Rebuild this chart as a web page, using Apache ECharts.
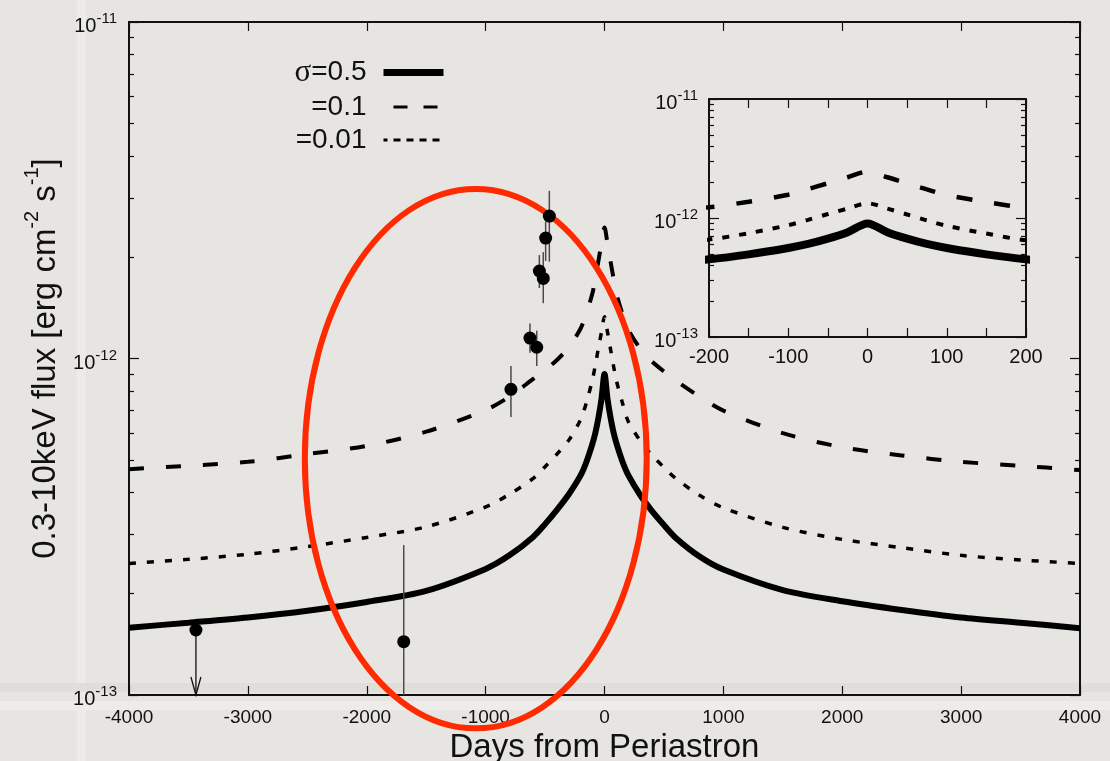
<!DOCTYPE html>
<html><head><meta charset="utf-8">
<script src="https://cdn.jsdelivr.net/npm/echarts@6/dist/echarts.min.js"></script>
<style>html,body{margin:0;padding:0;background:#e6e5e2;}#c{width:1110px;height:761px;}</style>
</head><body><div id="c"></div>
<script>
// ---------- data ----------
const days = [-4000,-3500,-3000,-2500,-2000,-1500,-1000,-800,-600,-500,-400,-300,-200,-150,-100,-75,-50,-25,0,25,50,75,100,150,200,300,400,500,600,800,1000,1500,2000,2500,3000,3500,4000];
const sigma05 = [1.585e-13,1.64e-13,1.70e-13,1.78e-13,1.89e-13,2.04e-13,2.37e-13,2.6e-13,2.95e-13,3.22e-13,3.55e-13,3.95e-13,4.5e-13,4.95e-13,5.6e-13,6.05e-13,6.7e-13,7.6e-13,9.0e-13,7.6e-13,6.7e-13,6.05e-13,5.6e-13,4.95e-13,4.5e-13,3.93e-13,3.52e-13,3.2e-13,2.93e-13,2.58e-13,2.36e-13,2.05e-13,1.9e-13,1.79e-13,1.70e-13,1.64e-13,1.58e-13];
const sigma01 = [4.69e-13,4.8e-13,4.93e-13,5.2e-13,5.5e-13,6.06e-13,7.03e-13,7.7e-13,8.7e-13,9.25e-13,9.9e-13,1.08e-12,1.23e-12,1.37e-12,1.57e-12,1.75e-12,1.96e-12,2.2e-12,2.45e-12,2.2e-12,1.95e-12,1.74e-12,1.56e-12,1.36e-12,1.22e-12,1.07e-12,9.8e-13,9.15e-13,8.6e-13,7.7e-13,7.0e-13,6.0e-13,5.45e-13,5.15e-13,4.93e-13,4.8e-13,4.66e-13];
const sigma001 = [2.46e-13,2.53e-13,2.62e-13,2.76e-13,2.94e-13,3.16e-13,3.62e-13,3.95e-13,4.4e-13,4.77e-13,5.2e-13,5.72e-13,6.6e-13,7.45e-13,8.7e-13,9.65e-13,1.08e-12,1.2e-12,1.33e-12,1.2e-12,1.07e-12,9.55e-13,8.6e-13,7.4e-13,6.5e-13,5.7e-13,5.15e-13,4.75e-13,4.4e-13,3.92e-13,3.6e-13,3.15e-13,2.9e-13,2.74e-13,2.6e-13,2.52e-13,2.46e-13];
const seriesNames = ['σ=0.5', '=0.1', '=0.01'];

const obsDays = [-464,-495,-548,-515,-627,-570,-787,-1689];
const obsFlux = [2.65e-12,2.28e-12,1.82e-12,1.73e-12,1.15e-12,1.08e-12,8.1e-13,1.44e-13];
const obsLow  = [1.94e-12,1.95e-12,1.62e-12,1.46e-12,1.04e-12,9.5e-13,6.7e-13,1e-13];
const obsHigh = [3.15e-12,2.55e-12,2.03e-12,2.07e-12,1.27e-12,1.21e-12,9.5e-13,2.79e-13];
const limitDays = [-3437];
const limitFlux = [1.56e-13];
const limitFloor = 1e-13;

const mainXTicks = [-4000,-3000,-2000,-1000,0,1000,2000,3000,4000];
const insetXTicks = [-200,-100,0,100,200];
const fluxMin = 1e-13, fluxMax = 1e-11;
const minorFlux = [2e-13,3e-13,4e-13,5e-13,6e-13,7e-13,8e-13,9e-13,2e-12,3e-12,4e-12,5e-12,6e-12,7e-12,8e-12,9e-12];

// annotation ellipse (data coords): centre, half width in days, half height in decades
const ellipseCenter = [-1083, 5.04e-13];
const ellipseHalfDays = 1438;
const ellipseHalfDecades = 0.8015;

// ---------- chart ----------
const FONT = 'Liberation Sans, Arial, Helvetica, sans-serif';
const INK = '#111';
const chart = echarts.init(document.getElementById('c'), null, {renderer: 'canvas'});

const pairs = arr => days.map((d, i) => [d, arr[i]]);
const supLabel = (base, sup) => ({
  b: {fontSize: base, fontFamily: FONT, color: INK, lineHeight: base + 9, padding: [6, 0, 0, 0], verticalAlign: 'bottom'},
  s: {fontSize: sup, fontFamily: FONT, color: INK, lineHeight: sup, padding: [4, 0, 0, 0], verticalAlign: 'top'}
});
const logFmt = v => '{b|10}{s|' + Math.round(Math.log10(v)) + '}';

function xAxes(grid, min, max, interval, pos, showLabel, labelVals, fs, margin) {
  return {
    gridIndex: grid, type: 'value', position: pos, min: min, max: max, interval: interval,
    axisLine: {show: true, onZero: false, lineStyle: {color: INK, width: 2}},
    axisTick: {show: true, inside: true, length: 9, lineStyle: {color: INK, width: 1.2}},
    axisLabel: {show: showLabel, fontSize: fs, fontFamily: FONT, color: INK, margin: margin,
      formatter: v => (labelVals.indexOf(v) >= 0 ? String(v) : '')},
    splitLine: {show: false}
  };
}
function yMajor(grid, pos, showLabel, fs, sfs, margin) {
  return {
    gridIndex: grid, type: 'log', logBase: 10, position: pos, min: fluxMin, max: fluxMax,
    axisLine: {show: true, onZero: false, lineStyle: {color: INK, width: 2}},
    axisTick: {show: true, inside: true, length: 10, lineStyle: {color: INK, width: 1.2}},
    axisLabel: {show: showLabel, formatter: logFmt, margin: margin, fontSize: fs, fontFamily: FONT, color: INK, rich: supLabel(fs, sfs)},
    splitLine: {show: false}
  };
}
function yMinor(grid, pos) {
  return {
    gridIndex: grid, type: 'log', logBase: 10, position: pos, min: fluxMin, max: fluxMax,
    axisLine: {show: false, onZero: false},
    axisTick: {show: true, inside: true, length: 5, customValues: minorFlux, lineStyle: {color: INK, width: 1.2}},
    axisLabel: {show: false}, splitLine: {show: false}
  };
}

const mainX = xAxes(0, -4000, 4000, 1000, 'bottom', true, mainXTicks, 19, 13);
mainX.name = 'Days from Periastron';
mainX.nameLocation = 'middle';
mainX.nameGap = 26;
mainX.nameTextStyle = {fontSize: 33, fontFamily: FONT, color: INK};
const mainY = yMajor(0, 'left', true, 20, 15, 12);
mainY.name = '{t|0.3-10keV flux [erg cm}{s|-2}{t| s}{s|-1}{t|]}';
mainY.nameLocation = 'middle';
mainY.nameGap = 66;
mainY.nameTextStyle = {rich: {
  t: {fontSize: 33, fontFamily: FONT, color: INK, lineHeight: 40, verticalAlign: 'bottom'},
  s: {fontSize: 20, fontFamily: FONT, color: INK, lineHeight: 20, verticalAlign: 'top'}
}};

const lineStyles = [
  {main: {width: 6, type: 'solid'}, inset: {width: 8, type: 'solid'}},
  {main: {width: 4, type: [15, 22]}, inset: {width: 4.5, type: [16, 22]}},
  {main: {width: 3.5, type: [7, 11]}, inset: {width: 4, type: [7, 10]}}
];
const legendLineStyles = [
  {width: 7, type: 'solid', color: '#000'},
  {width: 3, type: [14, 16], color: '#000', dashOffset: -10},
  {width: 3, type: [7, 6], color: '#000'}
];
const curves = [sigma05, sigma01, sigma001];

const series = [];
curves.forEach((arr, i) => {
  series.push({
    name: seriesNames[i], type: 'line', xAxisIndex: 0, yAxisIndex: 0, data: pairs(arr),
    symbol: 'none', smooth: 0.3, z: 2, clip: true,
    lineStyle: Object.assign({color: '#000', cap: 'butt'}, lineStyles[i].main), itemStyle: {color: '#000'}
  });
});
curves.forEach((arr, i) => {
  series.push({
    name: seriesNames[i] + ' inset', type: 'line', xAxisIndex: 2, yAxisIndex: 4, data: pairs(arr),
    symbol: 'none', smooth: 0.3, z: 2, clip: true,
    lineStyle: Object.assign({color: '#000', cap: 'butt'}, lineStyles[i].inset), itemStyle: {color: '#000'}
  });
});
series.push({
  type: 'custom', xAxisIndex: 0, yAxisIndex: 0, z: 4, clip: true,
  data: obsDays.map((d, i) => [d, obsLow[i], obsHigh[i]]),
  encode: {x: 0, y: [1, 2]},
  renderItem: (params, api) => {
    const a = api.coord([api.value(0), api.value(2)]);
    const b = api.coord([api.value(0), api.value(1)]);
    return {type: 'line', shape: {x1: a[0], y1: a[1], x2: b[0], y2: b[1]}, style: {stroke: '#4a4a4a', lineWidth: 1.5}};
  }
});
series.push({
  type: 'custom', xAxisIndex: 0, yAxisIndex: 0, z: 4,
  data: limitDays.map((d, i) => [d, limitFlux[i], limitFloor]),
  encode: {x: 0, y: [1, 2]},
  renderItem: (params, api) => {
    const a = api.coord([api.value(0), api.value(1)]);
    const b = api.coord([api.value(0), api.value(2)]);
    return {type: 'group', children: [
      {type: 'line', shape: {x1: a[0], y1: a[1], x2: b[0], y2: b[1]}, style: {stroke: '#111', lineWidth: 1.3}},
      {type: 'polyline', shape: {points: [[b[0] - 5, b[1] - 18], [b[0], b[1]], [b[0] + 5, b[1] - 18]]}, style: {stroke: '#111', lineWidth: 1.3, fill: 'none'}}
    ]};
  }
});
series.push({
  type: 'scatter', xAxisIndex: 0, yAxisIndex: 0, z: 5, symbol: 'circle', symbolSize: 13,
  itemStyle: {color: '#000', opacity: 1},
  data: obsDays.map((d, i) => [d, obsFlux[i]]).concat(limitDays.map((d, i) => [d, limitFlux[i]]))
});

const option = {
  animation: false,
  backgroundColor: '#e6e5e2',
  textStyle: {fontFamily: FONT},
  grid: [
    {left: 129, top: 22, right: 30, bottom: 66, containLabel: false, outerBoundsMode: 'none'},
    {left: 709, top: 99, width: 317, height: 238, containLabel: false, outerBoundsMode: 'none'}
  ],
  xAxis: [
    mainX,
    xAxes(0, -4000, 4000, 1000, 'top', false, mainXTicks, 19, 14),
    xAxes(1, -200, 200, 50, 'bottom', true, insetXTicks, 20, 10),
    xAxes(1, -200, 200, 50, 'top', false, insetXTicks, 20, 10)
  ],
  yAxis: [
    mainY, yMinor(0, 'left'), yMajor(0, 'right', false, 20, 15, 12), yMinor(0, 'right'),
    yMajor(1, 'left', true, 20, 15, 11), yMinor(1, 'left'), yMajor(1, 'right', false, 20, 15, 11), yMinor(1, 'right')
  ],
  legend: {
    data: seriesNames.map((n, i) => ({name: n, lineStyle: legendLineStyles[i]})),
    orient: 'vertical', align: 'right', right: 663, top: 57, padding: 0,
    itemGap: 5, itemWidth: 60, itemHeight: 14, selectedMode: false,
    itemStyle: {opacity: 0},
    textStyle: {color: INK, fontSize: 28, fontFamily: FONT, padding: [0, 12, 0, 0],
      rich: {g: {fontFamily: 'Liberation Serif, DejaVu Serif, serif', fontSize: 31, color: INK}, t: {fontSize: 28, fontFamily: FONT, color: INK}}},
    formatter: n => (n.charAt(0) === 'σ' ? '{g|σ}{t|' + n.slice(1) + '}' : '{t|' + n + '}')
  },
  series: series
};
chart.setOption(option);

const c = chart.convertToPixel({xAxisIndex: 0, yAxisIndex: 0}, ellipseCenter);
const e = chart.convertToPixel({xAxisIndex: 0, yAxisIndex: 0},
  [ellipseCenter[0] + ellipseHalfDays, ellipseCenter[1] * Math.pow(10, ellipseHalfDecades)]);
chart.setOption({graphic: [
  {type: 'rect', id: 'bandV', silent: true, z: -10, shape: {x: 77, y: 0, width: 9, height: 761}, style: {fill: '#ecebe9'}},
  {type: 'rect', id: 'bandH1', silent: true, z: -10, shape: {x: 0, y: 683, width: 1110, height: 9}, style: {fill: '#dfdedb'}},
  {type: 'rect', id: 'bandH2', silent: true, z: -10, shape: {x: 0, y: 701, width: 1110, height: 9}, style: {fill: '#edecea'}},
  {type: 'ellipse', id: 'ring', silent: true, z: 3,
    shape: {cx: c[0], cy: c[1], rx: e[0] - c[0], ry: c[1] - e[1]},
    style: {fill: 'none', stroke: '#ff2a00', lineWidth: 6}}
]});
</script></body></html>
